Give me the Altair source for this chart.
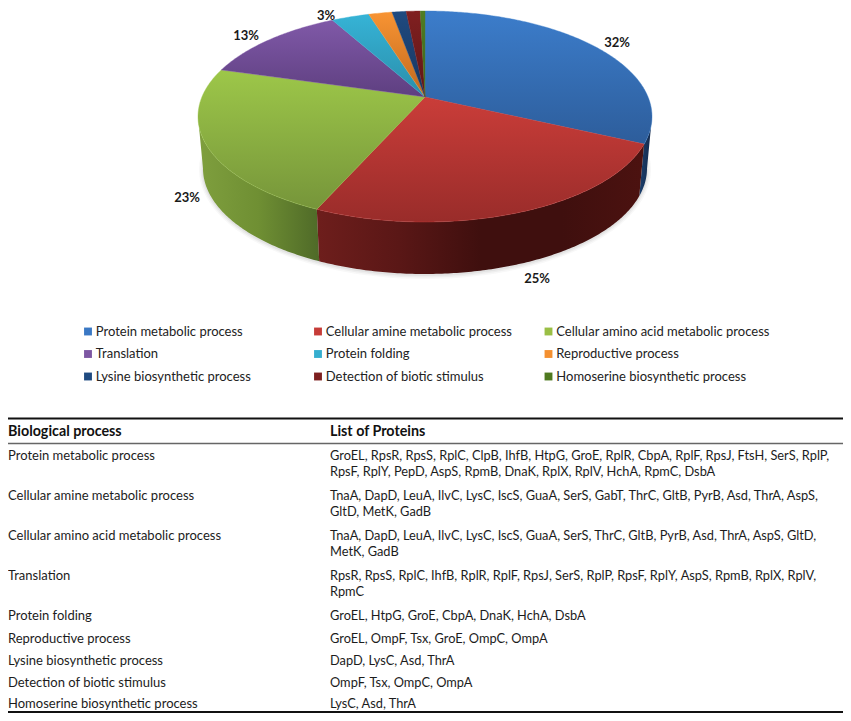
import math
import altair as alt
import pandas as pd

# ---------- data ----------
categories = ["Protein metabolic process", "Cellular amine metabolic process",
              "Cellular amino acid metabolic process", "Translation", "Protein folding",
              "Reproductive process", "Lysine biosynthetic process",
              "Detection of biotic stimulus", "Homoserine biosynthetic process"]
shares = [32, 24.6, 22.9, 12.5, 3.2, 2.0, 1.2, 1.2, 0.4]
slice_labels = ["32%", "25%", "23%", "13%", "3%"]
label_pos = [(617, 43), (537, 279), (187, 198), (246, 36), (326, 16)]
top_colors = [("#3c7dcb", "#2d5d9b"), ("#ca3d39", "#992c2a"), ("#9dc749", "#76953a"),
              ("#8059a8", "#5e3f80"), ("#36b3d6", "#2a8eaa"), ("#f89433", "#c0681e"),
              ("#1f4a80", "#18365f"), ("#801f20", "#5e1718"), ("#4f7d24", "#3d601c")]
legend_colors = ["#3a78c4", "#c63c38", "#9abf45", "#7d57a3", "#35aecf", "#f49030", "#1f4a80", "#7d1f1f", "#4f7a20"]
proteins = [
    ["GroEL, RpsR, RpsS, RplC, ClpB, IhfB, HtpG, GroE, RplR, CbpA, RplF, RpsJ, FtsH, SerS, RplP,",
     "RpsF, RplY, PepD, AspS, RpmB, DnaK, RplX, RplV, HchA, RpmC, DsbA"],
    ["TnaA, DapD, LeuA, IlvC, LysC, IscS, GuaA, SerS, GabT, ThrC, GltB, PyrB, Asd, ThrA, AspS,",
     "GltD, MetK, GadB"],
    ["TnaA, DapD, LeuA, IlvC, LysC, IscS, GuaA, SerS, ThrC, GltB, PyrB, Asd, ThrA, AspS, GltD,",
     "MetK, GadB"],
    ["RpsR, RpsS, RplC, IhfB, RplR, RplF, RpsJ, SerS, RplP, RpsF, RplY, AspS, RpmB, RplX, RplV,",
     "RpmC"],
    ["GroEL, HtpG, GroE, CbpA, DnaK, HchA, DsbA"],
    ["GroEL, OmpF, Tsx, GroE, OmpC, OmpA"],
    ["DapD, LysC, Asd, ThrA"],
    ["OmpF, Tsx, OmpC, OmpA"],
    ["LysC, Asd, ThrA"],
]
headers = ["Biological process", "List of Proteins"]

# ---------- layout (window pixels, page margin removed below) ----------
M = 8
W, H = 835, 705
FONT = "Lato"
FS = 13.0
FS_PROT = 12.8
CX, CY, RX, RY = 425, 116.5, 227, 105.5          # top face ellipse
APEX = (97 - CY) / RY                            # perspective shift of the centre
BCY, BRX, BRY = 168.5, 222, 105.5                # bottom rim ellipse


def rim(theta):
    """Unit-ellipse position of a true pie angle seen in perspective."""
    x, y = math.sin(theta), -math.cos(theta)
    d = 1 + APEX * y
    return x * math.sqrt(1 - APEX ** 2) / d, (y + APEX) / d


def top_pt(u):
    return [CX + RX * u[0] - M, CY + RY * u[1] - M]


def bot_pt(u):
    return [CX + BRX * u[0] - M, BCY + BRY * u[1] - M]


def feature(ring):
    ring = ring + [ring[0]]
    return {"type": "Feature", "properties": {}, "geometry": {"type": "Polygon", "coordinates": [ring]}}


def sample(a0, a1):
    n = max(3, int(abs(a1 - a0) * 90))
    return [rim(a0 + (a1 - a0) * i / n) for i in range(n + 1)]


def grad(stops, horizontal=False):
    n = len(stops) - 1
    return alt.Gradient(gradient="linear", x1=0, y1=0, x2=1 if horizontal else 0, y2=0 if horizontal else 1,
                        stops=[alt.GradientStop(offset=i / n, color=c) for i, c in enumerate(stops)])


def poly(ring, **mark):
    return alt.Chart(alt.Data(values=[feature(ring)])).mark_geoshape(**mark).project(
        type="identity", scale=1, translate=[0, 0])


layers = []

# soft shadow under the pie
for k, op in [(4, 0.04), (2.5, 0.06), (1, 0.08)]:
    ell = [[CX + (BRX + k) * math.cos(i * math.pi / 60) - M, BCY + 1 + (BRY + k) * math.sin(i * math.pi / 60) - M]
           for i in range(120)]
    layers.append(poly(ell, fill="#555555", fillOpacity=op, stroke=None))

# side wall
wall_fills = {
    0: grad(["#1b3e6c", "#14294a"], True),
    1: grad(["#6e1e1c", "#5a1716", "#3f0f0e", "#3f0f0e", "#4c1210"], True),
    2: grad(["#7f9f3e", "#6f8f33", "#4f6a28"], True),
}
edges = [0.0]
for s in shares:
    edges.append(edges[-1] + s / sum(shares) * 2 * math.pi)

for i in [0, 2, 1]:
    pts = sample(edges[i], edges[i + 1])
    # only the part of the rim facing the viewer has a wall
    pts = [p for p in pts if p[1] >= -0.02]
    if i == 0:
        pts = [(1.0, 0.0)] + pts
    if i == 2:
        pts = pts + [(-1.0, 0.0)]
    ring = [top_pt(p) for p in pts] + [bot_pt(p) for p in reversed(pts)]
    layers.append(poly(ring, fill=wall_fills[i], stroke=None))

# top faces
apex_pt = [CX - M, CY + APEX * RY - M]
for i in range(len(shares)):
    ring = [apex_pt] + [top_pt(p) for p in sample(edges[i], edges[i + 1])]
    layers.append(poly(ring, fill=grad(list(top_colors[i])), stroke=top_colors[i][0], strokeWidth=0.4))

lab = pd.DataFrame({"label": slice_labels,
                    "px": [p[0] - M for p in label_pos],
                    "py": [p[1] - M for p in label_pos]})
PX = alt.Scale(domain=[0, W], range=[0, W])
PY = alt.Scale(domain=[0, H], range=[0, H])
xq = lambda f: alt.X(f, type="quantitative", scale=PX, axis=None)
yq = lambda f: alt.Y(f, type="quantitative", scale=PY, axis=None)

layers.append(alt.Chart(lab).mark_text(font=FONT, fontSize=13, fontWeight="bold", color="#1a1a1a").encode(
    x=xq("px"), y=yq("py"), text="label:N"))

# legend
leg_x = [88, 318, 548.5]
leg_y = [331.5, 354, 376.5]
leg = pd.DataFrame({
    "name": categories,
    "sx": [leg_x[i % 3] - M for i in range(9)],
    "tx": [leg_x[i % 3] + 7.8 - M for i in range(9)],
    "ty": [leg_y[i // 3] - M for i in range(9)],
})
layers.append(alt.Chart(leg).mark_square(size=62, opacity=1).encode(
    x=xq("sx"), y=yq("ty"),
    color=alt.Color("name:N", scale=alt.Scale(domain=categories, range=legend_colors), legend=None)))
layers.append(alt.Chart(leg).mark_text(font=FONT, fontSize=FS, align="left", color="#222222").encode(
    x=xq("tx"), y=yq("ty"), text="name:N"))

# table
row_y = [455.5, 496, 536, 576, 616, 638.5, 661, 683, 704]
LINE = 16.4
names = pd.DataFrame({"t": categories, "ty": [y - M for y in row_y]})
layers.append(alt.Chart(names).mark_text(font=FONT, fontSize=FS, align="left", color="#1c1c1c").encode(
    x=alt.value(0), y=yq("ty"), text="t:N"))

rows = []
for lines, y in zip(proteins, row_y):
    for j, ln in enumerate(lines):
        rows.append({"t": ln, "ty": y + j * LINE - M})
tab = pd.DataFrame(rows)
layers.append(alt.Chart(tab).mark_text(font=FONT, fontSize=FS_PROT, align="left", color="#1c1c1c").encode(
    x=alt.value(330 - M), y=yq("ty"), text="t:N"))

head = pd.DataFrame({"t": headers, "tx": [0, 330 - M], "ty": [432 - M, 432 - M]})
layers.append(alt.Chart(head).mark_text(font=FONT, fontSize=14.3, fontWeight="bold", align="left", color="#111111").encode(
    x=xq("tx"), y=yq("ty"), text="t:N"))

for y, col, sw in [(418.5, "#111111", 2), (443.5, "#666666", 1.4), (712, "#111111", 2)]:
    layers.append(alt.Chart(pd.DataFrame({"k": [0]})).mark_rule(color=col, strokeWidth=sw).encode(
        x=alt.value(0), x2=alt.value(W), y=alt.value(y - M)))

chart = alt.layer(*layers).properties(
    width=W, height=H, padding=0, autosize=alt.AutoSizeParams(type="none"),
    background="white"
).configure_view(stroke=None).resolve_scale(color="independent")

chart.save("out.html", embed_options={"renderer": "svg", "actions": False})
